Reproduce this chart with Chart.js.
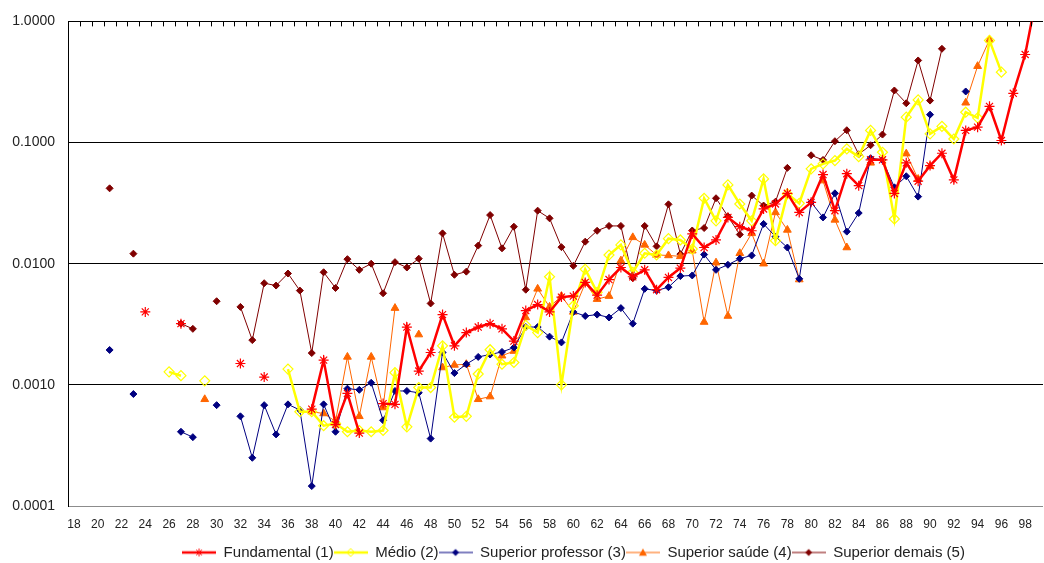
<!DOCTYPE html>
<html>
<head>
<meta charset="utf-8">
<script src="https://cdn.jsdelivr.net/npm/chart.js@4.4.1/dist/chart.umd.min.js"></script>
<style>
  html, body { margin: 0; padding: 0; background: #ffffff; }
  #wrap { width: 1044px; height: 563px; }
</style>
</head>
<body>
<div id="wrap"><canvas id="chart" width="1044" height="563"></canvas></div>
<script>
// Ages on the category axis (18 to 99)
const ages = [18,19,20,21,22,23,24,25,26,27,28,29,30,31,32,33,34,35,36,37,
              38,39,40,41,42,43,44,45,46,47,48,49,50,51,52,53,54,55,56,57,
              58,59,60,61,62,63,64,65,66,67,68,69,70,71,72,73,74,75,76,77,
              78,79,80,81,82,83,84,85,86,87,88,89,90,91,92,93,94,95,96,97,
              98,99];

// Rates by age, one array per schooling group (null = no value)
const fundamental = [
  null,null,null,null,null,null,0.0040,null,null,0.0032,
  null,null,null,null,0.0015,null,0.00116,null,null,null,
  0.00063,0.0016,0.00047,0.00085,0.00040,null,0.00070,0.00069,0.0030,0.0013,
  0.00185,0.0038,0.0021,0.0027,0.0030,0.0032,0.0029,0.0023,0.0041,0.0046,
  0.0040,0.0053,0.0054,0.0070,0.0055,0.0074,0.0093,0.0078,0.0089,0.0061,
  0.0077,0.0092,0.0176,0.0136,0.0157,0.0241,0.0202,0.0187,0.0283,0.0311,
  0.0381,0.0265,0.0321,0.0544,0.0274,0.0553,0.0441,0.072,0.072,0.038,
  0.068,0.048,0.0645,0.0816,0.0492,0.126,0.134,0.199,0.104,0.255,
  0.533,1.7];

const medio = [
  null,null,null,null,null,null,null,null,0.00128,0.00119,
  null,0.00108,null,null,null,null,null,null,0.00135,0.00060,
  0.00060,0.00046,0.00048,0.00041,0.00042,0.00041,0.00042,0.00126,0.00045,0.00095,
  0.00095,0.0021,0.00054,0.00055,0.00123,0.00195,0.00148,0.00153,0.0031,0.0027,
  0.0078,0.00100,0.0045,0.0090,0.0058,0.0118,0.0143,0.0085,0.0122,0.0118,
  0.0161,0.0157,0.0132,0.0347,0.0226,0.0447,0.0311,0.0226,0.0501,0.0155,
  0.0377,0.0315,0.0607,0.0667,0.071,0.0887,0.0766,0.126,0.0832,0.0234,
  0.162,0.225,0.118,0.136,0.107,0.178,0.160,0.697,0.381,null,
  null,null];

const superiorProfessor = [
  null,null,null,0.00194,null,0.00084,null,null,null,0.00041,
  0.00037,null,0.00068,null,0.00055,0.00025,0.00068,0.00039,0.00069,0.00062,
  0.000146,0.00069,0.00041,0.00093,0.00091,0.00104,0.00051,0.00089,0.00089,0.00086,
  0.00036,0.00185,0.00125,0.00148,0.0017,0.00178,0.00187,0.00203,0.0030,0.0030,
  0.0025,0.00224,0.0040,0.0037,0.0038,0.0036,0.0043,0.0032,0.0062,0.0060,
  0.0064,0.0079,0.0080,0.0119,0.0089,0.0098,0.0110,0.0117,0.0213,0.0167,
  0.0136,0.0075,0.0321,0.0241,0.0381,0.0184,0.0262,0.0742,0.072,0.0427,
  0.0527,0.0358,0.170,null,null,0.264,null,null,null,null,
  null,null];

const superiorSaude = [
  null,null,null,null,null,null,null,null,null,null,
  null,0.00076,null,null,null,null,null,null,null,null,
  0.00060,0.00058,0.00050,0.0017,0.00055,0.0017,0.00065,0.0043,null,0.0026,
  null,0.00139,0.00146,0.00148,0.00076,0.0008,0.00174,0.0019,0.0036,0.0062,
  0.0044,0.0054,0.0040,0.0069,0.0051,0.0054,0.0106,0.0165,0.0143,0.0118,
  0.0117,0.0115,0.0128,0.0033,0.0102,0.0037,0.0122,0.0178,0.0100,0.0265,
  0.0190,0.0074,null,0.0485,0.0230,0.0136,null,0.068,null,null,
  0.081,0.050,0.0637,null,null,0.213,0.427,0.706,null,null,
  null,null];

const superiorDemais = [
  null,null,null,0.0419,null,0.0121,null,null,null,0.0032,
  0.0029,null,0.0049,null,0.0044,0.00234,0.0069,0.0066,0.0083,0.0060,
  0.00183,0.0085,0.0063,0.0109,0.0089,0.0100,0.0057,0.0103,0.0093,0.0110,
  0.0047,0.0178,0.0081,0.0086,0.0141,0.0252,0.0134,0.0202,0.0061,0.0274,
  0.0237,0.0137,0.0096,0.0152,0.0187,0.0205,0.0205,0.0076,0.0205,0.0139,
  0.0309,0.0120,0.0188,0.0197,0.0347,0.0246,0.0174,0.0365,0.0302,0.0325,
  0.0618,null,0.0785,0.0719,0.1026,0.1264,0.080,0.095,0.1164,0.269,
  0.211,0.476,0.222,0.594,null,null,null,null,null,null,
  null,null];

// Y axis labels (powers of ten)
const yTicks = [0.0001, 0.001, 0.01, 0.1, 1];

const seriesNames = ['Fundamental (1)', 'Médio (2)', 'Superior professor (3)',
                     'Superior saúde (4)', 'Superior demais (5)'];

// Legend swatch: a short line with the series marker in the middle
function legendSwatch(color, lineWidth, marker, r, filled) {
  const c = document.createElement('canvas');
  c.width = 34; c.height = 12;
  const g = c.getContext('2d');
  g.strokeStyle = color;
  g.lineWidth = lineWidth;
  g.beginPath(); g.moveTo(0, 6); g.lineTo(34, 6); g.stroke();
  const cx = 17, cy = 6;
  g.lineWidth = 1;
  g.fillStyle = color;
  g.beginPath();
  if (marker === 'star') {
    g.moveTo(cx - r, cy); g.lineTo(cx + r, cy);
    g.moveTo(cx, cy - r); g.lineTo(cx, cy + r);
    const d = r * 0.7;
    g.moveTo(cx - d, cy - d); g.lineTo(cx + d, cy + d);
    g.moveTo(cx - d, cy + d); g.lineTo(cx + d, cy - d);
    g.stroke();
  } else if (marker === 'diamond') {
    g.moveTo(cx, cy - r); g.lineTo(cx + r, cy); g.lineTo(cx, cy + r); g.lineTo(cx - r, cy);
    g.closePath();
    if (filled) g.fill(); else g.stroke();
  } else if (marker === 'triangle') {
    g.moveTo(cx, cy - r); g.lineTo(cx + r, cy + r * 0.8); g.lineTo(cx - r, cy + r * 0.8);
    g.closePath(); g.fill();
  }
  return c;
}

const styles = [
  { color: '#FF0000', width: 2.5, point: 'star',     radius: 5,   bg: '#FF0000', pw: 1.2, sw: legendSwatch('#FF0000', 2.5, 'star', 4, false) },
  { color: '#FFFF00', width: 2.5, point: 'rectRot',  radius: 5,   bg: 'rgba(0,0,0,0)', pw: 1.2, sw: legendSwatch('#FFFF00', 2.5, 'diamond', 4, false) },
  { color: '#000080', width: 1,   point: 'rectRot',  radius: 3.5, bg: '#000080', pw: 1, sw: legendSwatch('#000080', 1, 'diamond', 3.5, true) },
  { color: '#FF6600', width: 1,   point: 'triangle', radius: 4.5, bg: '#FF6600', pw: 1, sw: legendSwatch('#FF6600', 1, 'triangle', 4, true) },
  { color: '#800000', width: 1,   point: 'rectRot',  radius: 3.5, bg: '#800000', pw: 1, sw: legendSwatch('#800000', 1, 'diamond', 3.5, true) }
];
const seriesData = [fundamental, medio, superiorProfessor, superiorSaude, superiorDemais];

const datasets = seriesData.map((d, i) => ({
  label: seriesNames[i],
  data: d,
  borderColor: styles[i].color,
  borderWidth: styles[i].width,
  backgroundColor: styles[i].bg,
  pointStyle: styles[i].point,
  pointRadius: styles[i].radius,
  pointBorderColor: styles[i].color,
  pointBackgroundColor: styles[i].bg,
  pointBorderWidth: styles[i].pw,
  spanGaps: false,
  tension: 0,
  order: i
}));

// Small inward tick marks along the top edge, one per category boundary
const topTicks = {
  id: 'topTicks',
  afterDatasetsDraw(chart) {
    const xs = chart.scales.x;
    const top = chart.chartArea.top;
    const n = ages.length;
    const step = xs.width / n;
    const ctx = chart.ctx;
    ctx.save();
    ctx.strokeStyle = '#000';
    ctx.lineWidth = 1;
    ctx.beginPath();
    for (let i = 1; i < n; i++) {
      const x = Math.round(xs.left + i * step) + 0.5;
      ctx.moveTo(x, top);
      ctx.lineTo(x, top + 5);
    }
    ctx.stroke();
    ctx.restore();
  }
};

// The legend row sits right of the canvas centre, close to the bottom edge
const legendShift = {
  id: 'legendShift',
  afterLayout(chart) {
    const lg = chart.legend;
    if (lg) {
      lg.left += 52; lg.right += 52;
      lg.top += 9; lg.bottom += 9;
    }
  }
};

new Chart(document.getElementById('chart'), {
  type: 'line',
  data: { labels: ages, datasets },
  plugins: [topTicks, legendShift],
  options: {
    responsive: false,
    animation: false,
    devicePixelRatio: 1,
    layout: { autoPadding: false, padding: { left: 0, right: 1, top: 21, bottom: 2 } },
    plugins: {
      tooltip: { enabled: false },
      legend: {
        position: 'bottom',
        labels: {
          usePointStyle: true,
          pointStyleWidth: 34,
          padding: 0,
          color: '#222',
          font: { family: 'Liberation Sans, Arial, sans-serif', size: 15 },
          generateLabels(chart) {
            return chart.data.datasets.map((ds, i) => ({
              text: ds.label,
              pointStyle: styles[i].sw,
              fillStyle: 'rgba(0,0,0,0)',
              strokeStyle: 'rgba(0,0,0,0)',
              lineWidth: 0,
              hidden: false,
              datasetIndex: i,
              fontColor: '#222'
            }));
          }
        }
      }
    },
    scales: {
      x: {
        type: 'category',
        offset: true,
        grid: { display: false, drawTicks: false },
        border: { display: false },
        afterFit(scale) { scale.height = 30; scale.paddingLeft = 0; scale.paddingRight = 0; },
        ticks: {
          autoSkip: false,
          maxRotation: 0,
          minRotation: 0,
          padding: 11,
          color: '#222',
          font: { family: 'Liberation Sans, Arial, sans-serif', size: 12 },
          callback(v, idx) { return ages[idx] % 2 === 0 ? String(ages[idx]) : ''; }
        }
      },
      y: {
        type: 'logarithmic',
        min: 0.0001,
        max: 1,
        afterBuildTicks(scale) { scale.ticks = yTicks.map(v => ({ value: v })); },
        afterFit(scale) { scale.width = 68; },
        grid: {
          drawTicks: false,
          lineWidth: 1,
          color(ctx) { return ctx.tick && ctx.tick.value === 0.0001 ? '#8c8c8c' : '#000000'; }
        },
        border: { display: true, color: '#000000', width: 1 },
        ticks: {
          padding: 13,
          color: '#222',
          font: { family: 'Liberation Sans, Arial, sans-serif', size: 14 },
          callback(v) { return Number(v).toFixed(4); }
        }
      }
    }
  }
});
</script>
</body>
</html>
